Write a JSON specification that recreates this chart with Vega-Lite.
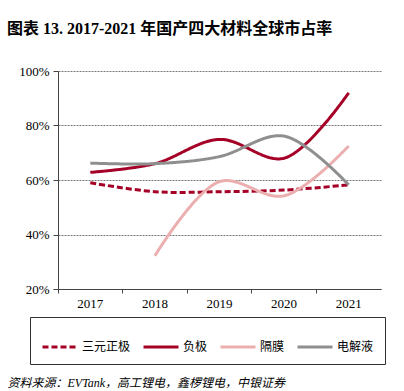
{
  "$schema": "https://vega.github.io/schema/vega-lite/v6.json",
  "width": 323,
  "height": 218,
  "autosize": {"type": "none"},
  "padding": {"left": 58, "top": 71, "right": 23, "bottom": 102},
  "background": "white",
  "title": {
    "text": "图表 13. 2017-2021 年国产四大材料全球市占率",
    "anchor": "start",
    "frame": "group",
    "dx": -51,
    "offset": 28,
    "font": "Liberation Serif, Noto Sans CJK SC",
    "fontSize": 16,
    "fontWeight": "bold",
    "color": "#000"
  },
  "data": {
    "values": [
      {"year": "2017", "series": "三元正极", "share": 0.59},
      {"year": "2018", "series": "三元正极", "share": 0.557},
      {"year": "2019", "series": "三元正极", "share": 0.557},
      {"year": "2020", "series": "三元正极", "share": 0.563},
      {"year": "2021", "series": "三元正极", "share": 0.582},
      {"year": "2017", "series": "负极", "share": 0.628},
      {"year": "2018", "series": "负极", "share": 0.66},
      {"year": "2019", "series": "负极", "share": 0.749},
      {"year": "2020", "series": "负极", "share": 0.68},
      {"year": "2021", "series": "负极", "share": 0.92},
      {"year": "2018", "series": "隔膜", "share": 0.322},
      {"year": "2019", "series": "隔膜", "share": 0.594},
      {"year": "2020", "series": "隔膜", "share": 0.542},
      {"year": "2021", "series": "隔膜", "share": 0.725},
      {"year": "2017", "series": "电解液", "share": 0.662},
      {"year": "2018", "series": "电解液", "share": 0.66},
      {"year": "2019", "series": "电解液", "share": 0.686},
      {"year": "2020", "series": "电解液", "share": 0.761},
      {"year": "2021", "series": "电解液", "share": 0.582}
    ]
  },
  "mark": {"type": "line", "interpolate": "catmull-rom", "strokeWidth": 3},
  "encoding": {
    "x": {
      "field": "year",
      "type": "ordinal",
      "scale": {"type": "band", "paddingInner": 0, "paddingOuter": 0},
      "axis": {
        "title": "资料来源：EVTank，高工锂电，鑫椤锂电，中银证券",
        "titleFont": "Liberation Serif, Noto Sans CJK SC",
        "titleFontStyle": "italic",
        "titleFontWeight": "normal",
        "titleFontSize": 12,
        "titleColor": "#000",
        "titleAnchor": "start",
        "titleAlign": "left",
        "titleBaseline": "alphabetic",
        "titleX": -51,
        "titleY": 97,
        "labelAngle": 0,
        "labelFont": "Liberation Serif",
        "labelFontSize": 13,
        "labelColor": "#000",
        "labelPadding": 4,
        "bandPosition": 0,
        "tickColor": "#444",
        "tickSize": 4,
        "domainColor": "#444",
        "grid": false
      }
    },
    "y": {
      "field": "share",
      "type": "quantitative",
      "scale": {"domain": [0.2, 1.0], "nice": false, "zero": false},
      "axis": {
        "title": null,
        "values": [0.2, 0.4, 0.6, 0.8, 1.0],
        "format": ".0%",
        "labelFont": "Liberation Serif",
        "labelFontSize": 13,
        "labelColor": "#000",
        "labelPadding": 4,
        "tickColor": "#444",
        "tickSize": 5,
        "domainColor": "#444",
        "grid": true,
        "gridColor": "#555",
        "gridDash": [2, 1],
        "gridWidth": 0.8
      }
    },
    "color": {
      "field": "series",
      "type": "nominal",
      "scale": {
        "domain": ["三元正极", "负极", "隔膜", "电解液"],
        "range": ["#A50026", "#A50026", "#EBAFAF", "#8F8F8F"]
      },
      "legend": {
        "title": null,
        "orient": "none",
        "legendX": -28,
        "legendY": 246,
        "direction": "horizontal",
        "columns": 4,
        "gridAlign": "each",
        "columnPadding": 6,
        "padding": 11,
        "strokeColor": "#333",
        "symbolType": "stroke",
        "symbolSize": 1225,
        "symbolStrokeWidth": 3,
        "labelFont": "Noto Sans CJK SC",
        "labelFontSize": 12,
        "labelColor": "#000",
        "labelOffset": 3
      }
    },
    "strokeDash": {
      "field": "series",
      "type": "nominal",
      "scale": {
        "domain": ["三元正极", "负极", "隔膜", "电解液"],
        "range": [[6, 3], [1, 0], [1, 0], [1, 0]]
      },
      "legend": null
    }
  },
  "config": {
    "view": {"stroke": null}
  }
}
